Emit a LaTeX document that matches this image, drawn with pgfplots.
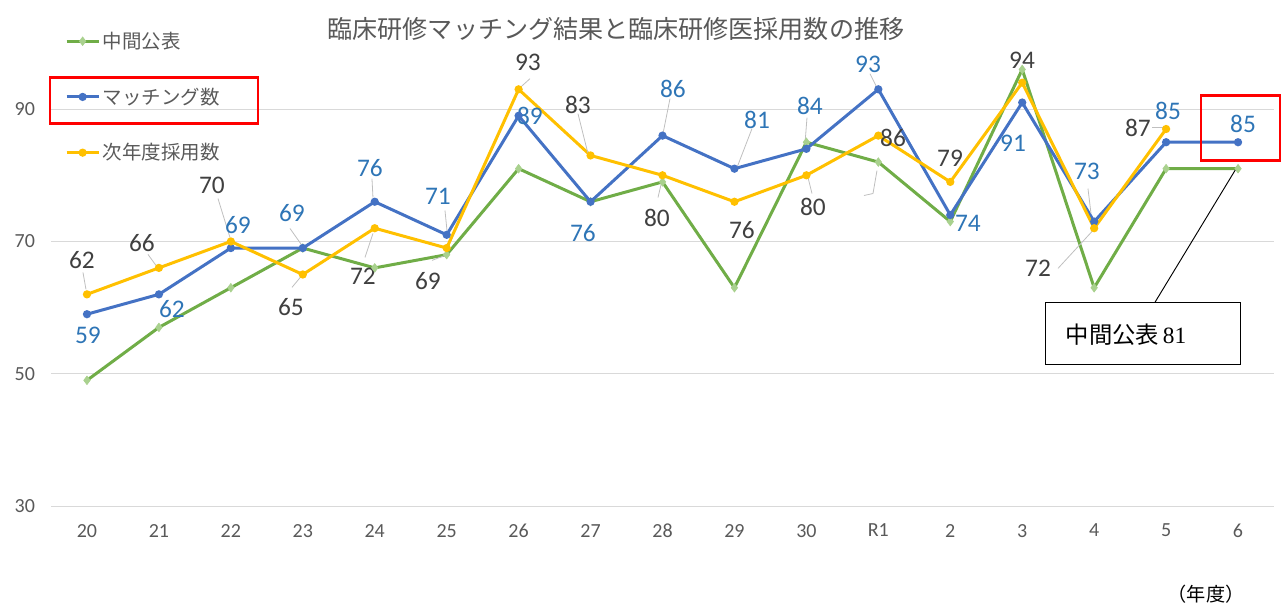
\documentclass[border=0pt]{standalone}
\usepackage{pgfplots}
\pgfplotsset{compat=1.18}
\usepackage{fontspec}
\setmainfont{Carlito}
\newfontfamily\jp{Noto Sans CJK JP}
\newfontfamily\lserif{Liberation Serif}
\definecolor{cgreen}{HTML}{70AD47}
\definecolor{cgreenm}{HTML}{A9D18E}
\definecolor{cblue}{HTML}{4472C4}
\definecolor{cyel}{HTML}{FFC000}
\definecolor{lblue}{HTML}{2E75B6}
\definecolor{ldark}{HTML}{404040}
\definecolor{tgray}{HTML}{595959}
\definecolor{ggray}{HTML}{D9D9D9}
\definecolor{lead}{HTML}{BFBFBF}
\newcommand{\PX}[2]{(axis cs:{(#1-87)/71.94},{30+(506-#2)/6.625})}
\tikzset{
  blbl/.style={text=lblue, font=\fontsize{19pt}{21pt}\selectfont, inner sep=0pt},
  ylbl/.style={text=ldark, font=\fontsize{19pt}{21pt}\selectfont, inner sep=0pt},
}
\begin{document}
\begin{tikzpicture}
\begin{axis}[
  scale only axis, width=917.25pt, height=347.25pt,
  xmin=-0.5, xmax=16.5, ymin=30, ymax=100,
  xtick={0,...,16},
  xticklabels={20,21,22,23,24,25,26,27,28,29,30,R1,2,3,4,5,6},
  ytick={30,50,70,90},
  ymajorgrids, major grid style={ggray, line width=0.75pt},
  axis line style={draw=none}, major tick length=0pt,
  tick label style={font=\fontsize{15pt}{17pt}\selectfont, text=tgray},
  /pgf/number format/assume math mode=true,
  xticklabel style={yshift=-10pt},
  yticklabel style={xshift=-8.5pt},
  clip=false,
  legend cell align=left,
  legend style={at={(axis description cs:0.0114,1.03)}, anchor=north west,
    draw=none, fill=none, font=\jp\fontsize{14.6pt}{16pt}\selectfont, text=tgray,
    row sep=24pt, inner sep=0pt},
  legend image code/.code={\draw[mark repeat=2,mark phase=2,#1] plot coordinates {(0cm,0cm) (0.42cm,0cm) (0.84cm,0cm)};},
]
\addplot[cgreen, line width=2.25pt, mark=diamond*, mark size=3.2pt,
  mark options={fill=cgreenm, draw=cgreenm, line width=0.5pt}]
  coordinates {(0,49)(1,57)(2,63)(3,69)(4,66)(5,68)(6,81)(7,76)(8,79)(9,63)(10,85)(11,82)(12,73)(13,96)(14,63)(15,81)(16,81)};
\addlegendentry{中間公表}
\addplot[cblue, line width=2.25pt, mark=*, mark size=1.9pt, mark options={fill=cblue}]
  coordinates {(0,59)(1,62)(2,69)(3,69)(4,76)(5,71)(6,89)(7,76)(8,86)(9,81)(10,84)(11,93)(12,74)(13,91)(14,73)(15,85)(16,85)};
\addlegendentry{マッチング数}
\addplot[cyel, line width=2.25pt, mark=*, mark size=1.9pt, mark options={fill=cyel}]
  coordinates {(0,62)(1,66)(2,70)(3,65)(4,72)(5,69)(6,93)(7,83)(8,80)(9,76)(10,80)(11,86)(12,79)(13,94)(14,72)(15,87)};
\addlegendentry{次年度採用数}

% leader lines
\begin{scope}[lead, line width=0.6pt]
\draw \PX{83}{272} -- \PX{86}{289};
\draw \PX{148}{254} -- \PX{156}{265};
\draw \PX{218}{198} -- \PX{230}{237};
\draw \PX{290}{228} -- \PX{302}{245};
\draw \PX{292}{287} -- \PX{302}{275};
\draw \PX{365}{257} -- \PX{373}{233};
\draw \PX{372}{178} -- \PX{373}{197};
\draw \PX{432}{260} -- \PX{445}{255};
\draw \PX{445}{210} -- \PX{447}{230};
\draw \PX{530}{78} -- \PX{520}{87};
\draw \PX{578}{113} -- \PX{588}{153};
\draw \PX{658}{197} -- \PX{662}{180};
\draw \PX{670}{98} -- \PX{663}{133};
\draw \PX{752}{128} -- \PX{737}{167};
\draw \PX{807}{117} -- \PX{805}{143};
\draw \PX{808}{177} -- \PX{812}{193};
\draw \PX{870}{73} -- \PX{877}{87};
\draw \PX{877}{170} -- \PX{873}{193} -- \PX{864}{195};
\draw \PX{1088}{188} -- \PX{1091}{213};
\draw \PX{1058}{268} -- \PX{1093}{230};
\draw \PX{1152}{127} -- \PX{1163}{127};
\end{scope}

% yellow labels
\node[ylbl] at \PX{82}{260} {62};
\node[ylbl] at \PX{142}{243} {66};
\node[ylbl] at \PX{212}{185} {70};
\node[ylbl] at \PX{291}{307} {65};
\node[ylbl] at \PX{363}{276} {72};
\node[ylbl] at \PX{428}{281} {69};
\node[ylbl] at \PX{528}{62} {93};
\node[ylbl] at \PX{578}{104} {83};
\node[ylbl] at \PX{657}{217} {80};
\node[ylbl] at \PX{742}{230} {76};
\node[ylbl] at \PX{813}{206} {80};
\node[ylbl] at \PX{893}{137} {86};
\node[ylbl] at \PX{950}{158} {79};
\node[ylbl] at \PX{1022}{60} {94};
\node[ylbl] at \PX{1038}{268} {72};
\node[ylbl] at \PX{1138}{127} {87};
% blue labels
\node[blbl] at \PX{88}{335} {59};
\node[blbl] at \PX{172}{309} {62};
\node[blbl] at \PX{238}{225} {69};
\node[blbl] at \PX{292}{213} {69};
\node[blbl] at \PX{370}{167} {76};
\node[blbl] at \PX{438}{196} {71};
\node[blbl] at \PX{530}{115} {89};
\node[blbl] at \PX{583}{233} {76};
\node[blbl] at \PX{673}{88} {86};
\node[blbl] at \PX{757}{119} {81};
\node[blbl] at \PX{810}{105} {84};
\node[blbl] at \PX{868}{64} {93};
\node[blbl] at \PX{968}{223} {74};
\node[blbl] at \PX{1013}{143} {91};
\node[blbl] at \PX{1087}{171} {73};
\node[blbl] at \PX{1168}{110} {85};
\node[blbl] at \PX{1243}{123} {85};

% title
\node[font=\jp\fontsize{18.8pt}{20pt}\selectfont, text=tgray] at \PX{616}{28} {臨床研修マッチング結果と臨床研修医採用数の推移};
% red boxes
\draw[red, line width=2.2pt] \PX{50}{77} rectangle \PX{258}{123};
\draw[red, line width=2.2pt] \PX{1201}{95} rectangle \PX{1280}{160};
% callout
\draw[black, line width=0.7pt, fill=white] \PX{1045}{302} rectangle \PX{1240}{364};
\draw[black, line width=0.7pt] \PX{1155}{302} -- \PX{1238}{165};
\node[font=\fontsize{17.5pt}{19pt}\selectfont, text=black] at \PX{1126}{334} {\jp 中間公表\,\lserif 81};
% unit
\node[font=\jp\fontsize{14.4pt}{16pt}\selectfont, text=black] at \PX{1206}{594} {（年度）};
\end{axis}
\pgfresetboundingbox
\path (-38.25pt,-76.5pt) rectangle (927pt,379.5pt);
\end{tikzpicture}
\end{document}
